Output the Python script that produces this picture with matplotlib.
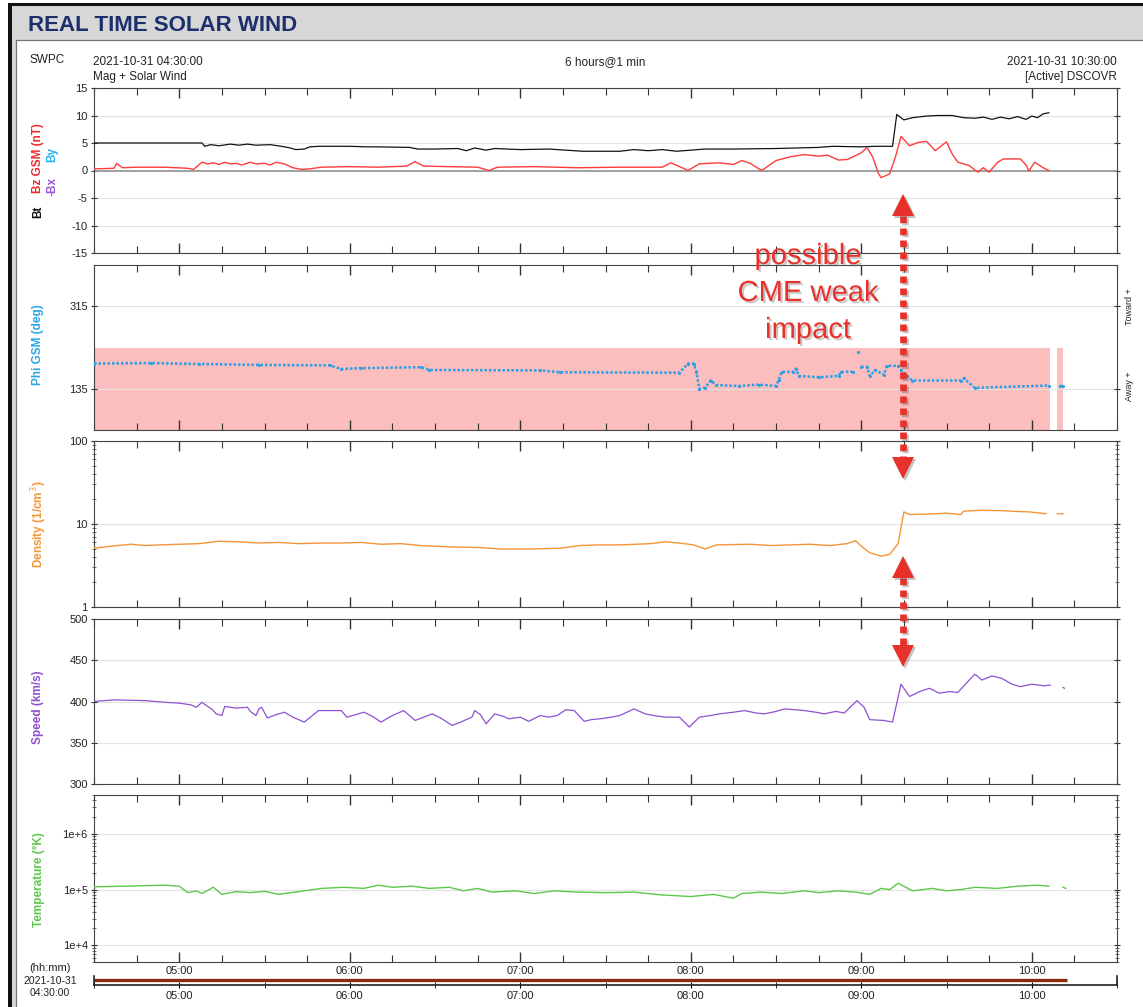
import numpy as np
import matplotlib
matplotlib.use('Agg')
import matplotlib.pyplot as plt
from matplotlib.patches import Rectangle, Polygon
import matplotlib.patheffects as pe
from matplotlib.ticker import FixedLocator, NullFormatter, LogLocator, FixedFormatter

plt.rcParams['font.family'] = ['Liberation Sans', 'DejaVu Sans']

# ---------------- data (time in minutes after 2021-10-31 04:30) ----------------
hour_ticks = [30, 90, 150, 210, 270, 330]
hour_labels = ['05:00', '06:00', '07:00', '08:00', '09:00', '10:00']

bt_t = [0, 38, 39, 41, 44, 48, 51, 54, 57, 62, 66, 69, 71, 74, 76, 79, 90, 96, 100, 111, 114, 120, 128, 131,
        134, 138, 141, 150, 160, 172, 185, 190, 195, 200, 205, 210, 215, 225, 240, 255, 260, 270, 275, 281,
        282.5, 285, 288, 293, 297, 302, 306, 310, 313, 316, 319, 322, 325, 328, 330, 332, 334, 336]
bt_v = [5.0, 5.0, 4.4, 4.7, 4.5, 4.8, 4.6, 4.8, 4.6, 4.7, 4.4, 4.1, 3.8, 3.9, 4.3, 4.4, 4.4, 4.3, 4.3, 4.2, 3.9,
        3.9, 4.0, 3.6, 4.1, 3.7, 4.0, 3.8, 3.9, 3.5, 3.5, 3.8, 3.6, 3.8, 3.5, 3.7, 3.9, 3.9, 4.0, 4.2, 4.4, 4.3,
        4.4, 4.4, 10.2, 9.2, 9.6, 9.9, 10.0, 10.0, 9.6, 9.5, 9.7, 9.3, 9.7, 9.4, 9.8, 9.3, 9.9, 9.6, 10.3, 10.5]

bz_t = [0, 7, 8, 10, 15, 25, 33, 35, 38, 40, 42, 44, 46, 48, 50, 52, 55, 57, 60, 62, 64, 67, 70, 73, 76, 80,
        90, 100, 110, 113, 116, 125, 135, 139, 142, 155, 170, 185, 200, 203, 207, 209, 213, 220, 225, 228,
        231, 233, 235, 240, 245, 250, 255, 258, 262, 265, 270, 272, 274, 276, 277, 280, 282, 284, 287, 290,
        293, 296, 300, 302, 304, 308, 311, 313, 315, 318, 320, 326, 328, 329, 331, 334, 336]
bz_v = [0.3, 0.4, 1.3, 0.5, 0.6, 0.6, 0.4, 0.2, 1.5, 1.2, 1.4, 1.1, 1.5, 1.2, 1.3, 1.0, 1.5, 1.2, 1.3, 1.0,
        1.5, 1.2, 0.5, 0.2, 0.3, 0.6, 0.7, 0.6, 0.8, 1.6, 0.8, 0.7, 0.6, 0.0, 0.6, 0.7, 0.5, 0.6, 0.6, 1.4,
        0.5, 0.0, 1.2, 1.4, 1.1, 1.8, 1.3, 0.6, 0.0, 1.8, 2.5, 2.9, 2.6, 2.8, 1.9, 2.0, 3.2, 4.2, 2.5, -0.5,
        -1.3, -0.6, 2.4, 6.2, 4.5, 5.1, 5.3, 3.6, 5.2, 3.0, 1.5, 0.9, -0.3, 0.5, -0.3, 1.5, 2.1, 2.1, 1.0,
        -0.1, 1.5, 0.5, 0.0]

phi_t = [0, 20, 37, 58, 83, 87, 94, 115, 118, 157, 164, 206, 209, 211, 212, 213, 215, 217, 219, 227, 234, 240,
         241, 242, 246, 247, 248, 255, 262, 263, 267, 268, 269, 269.5, 270, 272, 273, 275, 278, 279, 283, 284,
         286, 288, 305, 306, 310, 336, 337, 340, 341]
phi_v = [190, 191, 189, 187, 186, 178, 180, 182, 176, 175, 171, 170, 190, 190, 172, 135, 137, 153, 143, 141,
         144, 141, 155, 172, 172, 179, 163, 160, 163, 172, 172, np.nan, 216, np.nan, 183, 183, 163, 176, 165,
         185, 185, 176, 163, 153, 153, 158, 137, 142, np.nan, 141, 141]

away_start = [0, 339]
away_end = [336.5, 341]

dens_t = [0, 6, 13, 18, 23, 30, 37, 44, 51, 58, 65, 72, 80, 87, 94, 101, 108, 115, 125, 136, 143, 153, 164,
          171, 178, 185, 196, 201, 206, 211, 215, 219, 231, 238, 245, 252, 259, 265, 268, 270, 273, 277, 280,
          283, 284, 285, 287, 294, 300, 305, 306, 312, 319, 324, 329, 335, 337, 339, 341]
dens_v = [5.1, 5.4, 5.7, 5.5, 5.6, 5.7, 5.8, 6.2, 6.1, 5.9, 6.0, 5.8, 5.9, 5.9, 6.0, 5.7, 5.8, 5.5, 5.3, 5.2,
          5.0, 5.0, 5.1, 5.5, 5.6, 5.6, 5.8, 6.1, 5.9, 5.6, 5.0, 5.6, 5.7, 5.5, 5.6, 5.7, 5.5, 5.8, 6.3, 5.4,
          4.5, 4.1, 4.3, 5.8, 9.0, 14.0, 13.0, 13.2, 13.5, 13.0, 14.3, 14.6, 14.5, 14.2, 14.0, 13.3, np.nan,
          13.3, 13.3]

spd_t = [0, 7, 18.5, 25, 30, 34, 36, 38, 40, 41.7, 43, 45, 46, 50, 54, 55, 57, 58, 59, 61, 64, 67, 70, 74, 79,
         83, 87, 89, 92, 95, 98, 101, 105, 109, 111, 113, 116, 119, 122, 126, 129, 133, 134, 136, 138, 141,
         144, 146, 150, 153, 157, 160, 163, 166, 169, 172.5, 175, 178, 182, 185, 190, 194, 197, 201, 206,
         209.5, 213, 217, 220, 225, 229, 233, 236, 240, 243, 247, 250, 254, 257, 261, 264, 268.5, 271, 273,
         278, 281, 284, 287, 290.5, 294, 297.5, 301, 304, 308, 310, 312.5, 316, 319.5, 323, 326, 330, 334.5,
         336.5, 339, 341, 341.5]
spd_v = [400, 402, 401, 399, 398, 396, 393, 399, 394, 390, 385, 383, 394, 392, 393, 388, 383, 391, 393, 380,
         384, 387, 381, 375, 389, 389, 389, 381, 384, 387, 382, 375, 383, 389, 383, 377, 381, 385, 380, 371,
         375, 381, 389, 384, 373, 385, 382, 379, 381, 376, 383, 381, 383, 390, 389, 376, 378, 379, 381, 383,
         391, 385, 383, 381, 381, 369, 381, 383, 385, 387, 389, 386, 385, 388, 391, 390, 389, 387, 385, 388,
         386, 401, 393, 378, 377, 375, 421, 406, 412, 416, 410, 412, 411, 426, 433, 426, 431, 428, 421, 418,
         421, 419, 420, np.nan, 417, 416]

temp_t = [0, 10, 25, 30, 33, 36, 38, 42, 45, 50, 55, 60, 65, 72, 80, 88, 95, 100, 105, 112, 118, 125, 130,
          135, 140, 148, 155, 162, 170, 180, 190, 200, 210, 218, 225, 228, 235, 242, 250, 255, 262, 268, 273,
          277, 280, 283, 288, 295, 300, 305, 310, 318, 325, 332, 336, 338, 341, 342]
temp_v = [1.12e5, 1.15e5, 1.2e5, 1.15e5, 0.88e5, 0.95e5, 0.85e5, 1.1e5, 0.82e5, 0.92e5, 0.88e5, 0.93e5,
          0.82e5, 0.92e5, 1.05e5, 1.1e5, 1.05e5, 1.2e5, 1.1e5, 1.15e5, 1.05e5, 1.1e5, 0.95e5, 1.05e5, 0.9e5,
          0.95e5, 0.85e5, 0.95e5, 0.9e5, 0.88e5, 0.9e5, 0.8e5, 0.75e5, 0.82e5, 0.7e5, 0.85e5, 0.9e5, 0.85e5,
          0.95e5, 0.88e5, 0.95e5, 0.9e5, 0.82e5, 1.05e5, 1.0e5, 1.3e5, 0.95e5, 1.05e5, 0.95e5, 1.0e5, 1.1e5,
          1.05e5, 1.15e5, 1.2e5, 1.15e5, np.nan, 1.1e5, 1.05e5]

coverage_t = [0, 342.5]

# ---------------- figure ----------------
W, H = 1143, 1007
fig = plt.figure(figsize=(W / 100, H / 100), dpi=100)
fig.patch.set_facecolor('white')

X0, X1 = 94, 1117
TXT = '#222222'


def add_ax(top, bottom):
    return fig.add_axes([X0 / W, 1 - bottom / H, (X1 - X0) / W, (bottom - top) / H])


def style(ax, xlabels=False):
    ax.set_xlim(0, 360)
    ax.xaxis.set_major_locator(FixedLocator(hour_ticks))
    ax.xaxis.set_minor_locator(FixedLocator(list(np.arange(0, 361, 15))))
    ax.tick_params(axis='x', which='both', direction='in', top=True, bottom=True, colors='#333333',
                   labelsize=8, labelcolor=TXT, pad=3)
    ax.tick_params(axis='x', which='major', length=7, width=1.0)
    ax.tick_params(axis='x', which='minor', length=5, width=0.8)
    ax.tick_params(axis='y', which='both', direction='inout', left=True, right=True, labelsize=8,
                   labelcolor=TXT, colors='#333333', pad=2)
    ax.tick_params(axis='y', which='major', length=5, width=0.8)
    ax.tick_params(axis='y', which='minor', length=2.5, width=0.5)
    if xlabels:
        ax.set_xticklabels(hour_labels)
    else:
        ax.xaxis.set_major_formatter(NullFormatter())
    for s in ax.spines.values():
        s.set_color('#444444')
        s.set_linewidth(0.8)
    ax.grid(axis='y', which='major', color='#e2e2e2', lw=0.8)
    ax.set_axisbelow(True)


# Panel 1: magnetic field
ax1 = add_ax(88, 253)
style(ax1)
ax1.set_ylim(-15, 15)
ax1.set_yticks([-15, -10, -5, 0, 5, 10, 15])
ax1.set_yticklabels(['-15', '-10', '-5', '0', '5', '10', '15'])
ax1.axhline(0, color='#9a9a9a', lw=1.3, zorder=1)
ax1.plot(bt_t, bt_v, color='#111111', lw=0.9, zorder=3)
ax1.plot(bz_t, bz_v, color='#ff3b3b', lw=1.0, zorder=3)

# Panel 2: Phi
ax2 = add_ax(265, 430)
style(ax2)
ax2.set_ylim(45, 405)
ax2.set_yticks([135, 315])
for s0, s1 in zip(away_start, away_end):
    ax2.fill_between([s0, s1], 45, 225, color='#fbbdbd', lw=0, zorder=0.5)
ax2.plot(phi_t, phi_v, color='#2a9fe6', lw=1.8, linestyle=(0, (1.0, 0.8)), zorder=3)
ax2.plot(phi_t, phi_v, color='#2a9fe6', lw=0, marker='.', ms=2.5, zorder=3)

# Panel 3: Density
ax3 = add_ax(441, 607)
style(ax3)
ax3.set_yscale('log')
ax3.set_ylim(1, 100)
ax3.yaxis.set_major_locator(FixedLocator([1, 10, 100]))
ax3.yaxis.set_major_formatter(FixedFormatter(['1', '10', '100']))
ax3.yaxis.set_minor_locator(LogLocator(subs=np.arange(2, 10)))
ax3.yaxis.set_minor_formatter(NullFormatter())
ax3.plot(dens_t, dens_v, color='#f49536', lw=1.0, zorder=3)

# Panel 4: Speed
ax4 = add_ax(619, 784)
style(ax4)
ax4.set_ylim(300, 500)
ax4.set_yticks([300, 350, 400, 450, 500])
ax4.plot(spd_t, spd_v, color='#8f50d2', lw=0.9, zorder=3)

# Panel 5: Temperature
ax5 = add_ax(795, 962)
style(ax5, xlabels=True)
ax5.set_yscale('log')
ax5.set_ylim(5e3, 5e6)
ax5.yaxis.set_major_locator(FixedLocator([1e4, 1e5, 1e6]))
ax5.yaxis.set_major_formatter(FixedFormatter(['1e+4', '1e+5', '1e+6']))
ax5.yaxis.set_minor_locator(LogLocator(subs=np.arange(2, 10)))
ax5.yaxis.set_minor_formatter(NullFormatter())
ax5.plot(temp_t, temp_v, color='#5cc94a', lw=1.0, zorder=3)

# Bottom data-coverage strip
ax6 = add_ax(976, 985)
ax6.set_xlim(0, 360)
ax6.set_ylim(0, 1)
ax6.spines['top'].set_visible(False)
for s in ['left', 'right', 'bottom']:
    ax6.spines[s].set_color('#222222')
    ax6.spines[s].set_linewidth(1.2)
ax6.set_yticks([])
ax6.xaxis.set_major_locator(FixedLocator(hour_ticks))
ax6.xaxis.set_minor_locator(FixedLocator(list(np.arange(0, 361, 30))))
ax6.set_xticklabels(hour_labels)
ax6.tick_params(axis='x', which='both', direction='inout', length=5, labelsize=8, labelcolor=TXT, pad=2)
ax6.patch.set_alpha(0)
ax6.plot(coverage_t, [0.55, 0.55], color='#8b2a0c', lw=2.4, solid_capstyle='butt')

# ---------------- overlay (pixel coordinates) ----------------
ov = fig.add_axes([0, 0, 1, 1])
ov.set_xlim(0, W)
ov.set_ylim(H, 0)
ov.axis('off')
ov.patch.set_alpha(0)

ov.add_patch(Rectangle((12, 5), W - 12, 35, color='#d7d7d7', lw=0))
ov.add_patch(Rectangle((12, 40), 4, H - 40, color='#d7d7d7', lw=0))
ov.add_patch(Rectangle((8, 3), 4, H - 3, color='#111111', lw=0))
ov.plot([8, W], [4, 4], color='#111111', lw=2.2, solid_capstyle='butt')
ov.plot([16, 16], [40, H], color='#777777', lw=0.9)
ov.plot([16, W], [40, 40], color='#777777', lw=0.9)
ov.text(28, 31, 'REAL TIME SOLAR WIND', color='#1c2f6c', fontsize=16, fontweight='bold', va='baseline',
        ha='left')

hdr = dict(fontsize=8.5, color=TXT, va='center')
ov.text(30, 60, 'SWPC', ha='left', **hdr)
ov.text(93, 62, '2021-10-31 04:30:00', ha='left', **hdr)
ov.text(93, 77, 'Mag + Solar Wind', ha='left', **hdr)
ov.text(605, 62, '6 hours@1 min', ha='center', **hdr)
ov.text(1117, 62, '2021-10-31 10:30:00', ha='right', **hdr)
ov.text(1117, 77, '[Active] DSCOVR', ha='right', **hdr)

lab = dict(rotation=90, ha='center', va='center', fontsize=8.5, fontweight='bold')
ov.text(38, 212, 'Bt', color='#111111', **lab)
ov.text(38, 158, 'Bz GSM (nT)', color='#ee2b2b', **lab)
ov.text(52, 186, '-Bx', color='#9955dd', **lab)
ov.text(52, 154, 'By', color='#22b5ee', **lab)
ov.text(38, 345, 'Phi GSM (deg)', color='#2aa5e8', **lab)
ov.text(39, 524, 'Density (1/cm$^3$)', color='#f49536', **lab)
ov.text(38, 707, 'Speed (km/s)', color='#8f50d2', **lab)
ov.text(39, 880, 'Temperature (°K)', color='#5cc94a', **lab)

ov.text(1129, 307, 'Toward +', rotation=90, ha='center', va='center', fontsize=6.5, color=TXT)
ov.text(1129, 386, 'Away +', rotation=90, ha='center', va='center', fontsize=6.5, color=TXT)

ov.text(50, 968, '(hh:mm)', ha='center', va='center', fontsize=8, color=TXT)
ov.text(50, 981, '2021-10-31', ha='center', va='center', fontsize=7.5, color=TXT)
ov.text(50, 993, '04:30:00', ha='center', va='center', fontsize=7.5, color=TXT)

# CME annotation
RED = '#e8312b'
shadow_l = [pe.SimpleLineShadow(offset=(1.5, -1.5), shadow_color='#555555', alpha=0.35), pe.Normal()]
shadow_p = [pe.SimplePatchShadow(offset=(1.5, -1.5), shadow_rgbFace='#555555', alpha=0.35), pe.Normal()]


def double_arrow(x, y_top, y_bot):
    hh, hw = 22, 11
    ov.plot([x, x], [y_top + hh, y_bot - hh], color=RED, lw=4.8, linestyle=(0, (1.0, 0.8)),
            dash_capstyle='butt', path_effects=shadow_l, zorder=5)
    ov.add_patch(Polygon([[x - hw, y_top + hh], [x + hw, y_top + hh], [x, y_top]], closed=True,
                         color=RED, lw=0, path_effects=shadow_p, zorder=6))
    ov.add_patch(Polygon([[x - hw, y_bot - hh], [x + hw, y_bot - hh], [x, y_bot]], closed=True,
                         color=RED, lw=0, path_effects=shadow_p, zorder=6))


double_arrow(903, 194, 479)
double_arrow(903, 556, 667)

txt_pe = [pe.withSimplePatchShadow(offset=(1.5, -1.5), shadow_rgbFace='#666666', alpha=0.35)]
for s, y in [('possible', 256), ('CME weak', 293), ('impact', 330)]:
    ov.text(808, y, s, color=RED, fontsize=21, ha='center', va='center', path_effects=txt_pe)

fig.savefig('out.png', dpi=100)
